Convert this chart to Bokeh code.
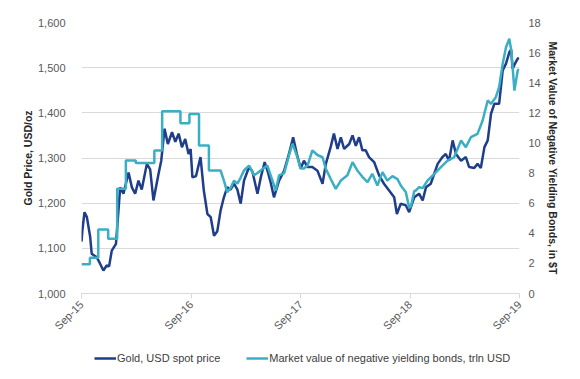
import pandas as pd
from datetime import datetime
from bokeh.plotting import figure
from bokeh.layouts import column
from bokeh.models import (Range1d, LinearAxis, FixedTicker, NumeralTickFormatter,
                          DatetimeTickFormatter, Legend, LegendItem, ColumnDataSource)
from bokeh.embed import file_html
from bokeh.resources import INLINE

# ---------------- data ----------------
gold_dates = [
    "2015-09-01", "2015-09-04", "2015-09-11", "2015-09-19", "2015-09-30", "2015-10-05",
    "2015-10-22", "2015-11-02", "2015-11-13", "2015-11-24", "2015-12-02", "2015-12-11",
    "2015-12-25", "2016-01-08", "2016-01-19", "2016-02-05", "2016-02-16", "2016-02-27",
    "2016-03-09", "2016-03-20", "2016-04-06", "2016-04-17", "2016-04-28", "2016-05-15",
    "2016-05-24", "2016-06-04", "2016-06-15", "2016-06-29", "2016-07-10", "2016-07-21",
    "2016-08-01", "2016-08-12", "2016-08-23", "2016-08-30", "2016-09-05", "2016-09-17",
    "2016-10-02", "2016-10-13", "2016-10-25", "2016-11-05", "2016-11-16", "2016-11-27",
    "2016-12-08", "2016-12-19", "2016-12-30", "2017-01-10", "2017-01-22", "2017-02-02",
    "2017-02-13", "2017-02-24", "2017-03-13", "2017-03-24", "2017-04-10", "2017-04-21",
    "2017-05-04", "2017-05-15", "2017-05-24", "2017-06-04", "2017-06-21", "2017-07-08",
    "2017-07-24", "2017-08-07", "2017-08-19", "2017-09-01", "2017-09-12", "2017-09-24",
    "2017-10-10", "2017-10-27", "2017-11-13", "2017-11-24", "2017-12-10", "2017-12-21",
    "2018-01-02", "2018-01-13", "2018-01-24", "2018-02-10", "2018-02-21", "2018-03-04",
    "2018-03-15", "2018-03-26", "2018-04-06", "2018-04-17", "2018-05-04", "2018-05-21",
    "2018-06-06", "2018-06-23", "2018-07-10", "2018-07-19", "2018-08-01", "2018-08-18",
    "2018-08-29", "2018-09-15", "2018-10-01", "2018-10-13", "2018-10-24", "2018-11-09",
    "2018-12-02", "2018-12-18", "2018-12-29", "2019-01-09", "2019-01-21", "2019-02-01",
    "2019-02-18", "2019-03-06", "2019-03-17", "2019-04-03", "2019-04-14", "2019-04-25",
    "2019-05-07", "2019-05-18", "2019-05-29", "2019-06-09", "2019-06-25", "2019-07-07",
    "2019-07-18", "2019-07-29", "2019-08-04", "2019-08-09", "2019-08-17", "2019-08-26",
    "2019-08-30",
]
gold_price = [
    1115, 1140, 1180, 1169, 1125, 1088,
    1080, 1066, 1051, 1062, 1060, 1095,
    1110, 1235, 1221, 1268, 1235, 1221,
    1250, 1230, 1287, 1275, 1206, 1265,
    1294, 1365, 1331, 1357, 1336, 1354,
    1324, 1342, 1309, 1320, 1257, 1260,
    1302, 1228, 1176, 1169, 1128, 1138,
    1184, 1213, 1235, 1230, 1243, 1230,
    1199, 1250, 1280, 1270, 1221, 1257,
    1291, 1268, 1246, 1213, 1250, 1272,
    1309, 1346, 1310, 1277, 1294, 1280,
    1280, 1272, 1243, 1287, 1324, 1354,
    1320, 1346, 1320, 1331, 1350, 1327,
    1346, 1317, 1317, 1302, 1291, 1261,
    1243, 1228, 1213, 1176, 1199, 1195,
    1180, 1213, 1221, 1206, 1235, 1243,
    1287, 1302, 1309, 1294, 1339, 1309,
    1294, 1302, 1280, 1278, 1287, 1278,
    1324, 1339, 1398, 1420, 1420, 1494,
    1509, 1534, 1540, 1497, 1509, 1520,
    1522,
]

bond_dates = [
    "2015-09-01", "2015-09-29", "2015-09-29", "2015-10-27", "2015-10-27", "2015-11-29",
    "2015-11-29", "2015-12-29", "2015-12-29", "2016-01-27", "2016-01-27", "2016-02-29",
    "2016-02-29", "2016-05-01", "2016-05-01", "2016-05-27", "2016-05-27", "2016-07-27",
    "2016-07-27", "2016-08-26", "2016-08-26", "2016-09-27", "2016-09-27", "2016-10-30",
    "2016-10-30", "2016-12-08", "2016-12-19", "2016-12-30", "2017-01-10", "2017-01-22",
    "2017-02-02", "2017-02-13", "2017-02-24", "2017-03-13", "2017-03-30", "2017-04-10",
    "2017-04-27", "2017-05-13", "2017-05-24", "2017-06-10", "2017-06-21", "2017-07-08",
    "2017-07-24", "2017-08-05", "2017-08-19", "2017-09-01", "2017-09-12", "2017-09-24",
    "2017-10-10", "2017-10-27", "2017-11-13", "2017-11-24", "2017-12-10", "2017-12-27",
    "2018-01-13", "2018-02-04", "2018-02-21", "2018-03-09", "2018-03-26", "2018-04-12",
    "2018-04-28", "2018-05-15", "2018-06-01", "2018-06-17", "2018-07-04", "2018-07-21",
    "2018-08-01", "2018-08-18", "2018-08-29", "2018-09-04", "2018-09-15", "2018-09-20",
    "2018-10-01", "2018-10-13", "2018-10-29", "2018-11-21", "2018-12-13", "2019-01-04",
    "2019-01-26", "2019-02-18", "2019-03-06", "2019-03-23", "2019-04-14", "2019-05-01",
    "2019-05-18", "2019-05-29", "2019-06-14", "2019-06-25", "2019-07-07", "2019-07-18",
    "2019-07-29", "2019-08-05", "2019-08-15", "2019-08-26", "2019-08-30",
]
bond_value = [
    1.95, 1.95, 2.37, 2.37, 4.25, 4.25,
    3.63, 3.63, 6.95, 6.95, 8.83, 8.83,
    8.66, 8.66, 9.50, 9.50, 12.10, 12.10,
    11.30, 11.30, 11.93, 11.93, 9.83, 9.83,
    8.17, 8.17, 7.50, 6.73, 7.00, 7.50,
    7.30, 7.70, 8.17, 8.50, 7.85, 8.00,
    8.28, 8.50, 7.85, 6.84, 7.85, 8.00,
    9.17, 9.94, 9.17, 8.30, 8.30, 8.50,
    9.50, 9.20, 9.05, 8.28, 7.62, 6.95,
    7.50, 7.85, 8.72, 8.17, 7.75, 7.39,
    7.95, 7.17, 8.06, 7.50, 7.80, 7.60,
    7.17, 6.73, 5.70, 5.80, 6.80, 6.84,
    7.06, 7.00, 7.50, 7.95, 8.39, 8.83,
    9.05, 10.16, 9.72, 10.38, 10.60, 11.49,
    12.82, 12.60, 13.04, 13.70, 15.26, 16.36,
    16.92, 16.10, 13.48, 14.81, 14.90,
]

x_tick_dates = ["2015-09-01", "2016-09-01", "2017-09-01", "2018-09-01", "2019-09-01"]
gold_ticks = [1000, 1100, 1200, 1300, 1400, 1500, 1600]
bond_ticks = [0, 2, 4, 6, 8, 10, 12, 14, 16, 18]

gold_label = "Gold, USD spot price"
bond_label = "Market value of negative yielding bonds, trln USD"
left_title = "Gold Price, USD/oz"
right_title = "Market Value of Negative Yielding Bonds, in $T"

# ---------------- styling ----------------
GOLD_COLOR = "#1f3d8a"
BOND_COLOR = "#3aafc4"
TICK_COLOR = "#595959"
GRID_COLOR = "#d9d9d9"
FONT = "Liberation Sans"

gold_src = ColumnDataSource(dict(x=pd.to_datetime(gold_dates), y=gold_price))
bond_src = ColumnDataSource(dict(x=pd.to_datetime(bond_dates), y=bond_value))

p = figure(frame_width=438, frame_height=271, x_axis_type="datetime",
           x_range=Range1d(datetime(2015, 9, 1), datetime(2019, 9, 1)),
           y_range=Range1d(1000, 1600),
           output_backend="svg", toolbar_location=None,
           min_border_left=81, min_border_right=61, min_border_top=22, min_border_bottom=42)
p.outline_line_color = None
p.background_fill_color = "white"
p.border_fill_color = "white"
p.extra_y_ranges = {"bonds": Range1d(0, 18)}

# grid
p.xgrid.grid_line_color = None
p.ygrid.grid_line_color = GRID_COLOR
p.ygrid.grid_line_width = 1

# x axis
xa = p.xaxis[0]
xa.ticker = FixedTicker(ticks=[pd.Timestamp(d).value // 10**6 for d in x_tick_dates])
fmt = "%b-%y"
xa.formatter = DatetimeTickFormatter(years=fmt, months=fmt, days=fmt, hours=fmt,
                                     minutes=fmt, seconds=fmt, milliseconds=fmt,
                                     microseconds=fmt, hourmin=fmt, minsec=fmt)
xa.major_label_orientation = 0.785398
xa.axis_line_color = GRID_COLOR
xa.major_tick_line_color = GRID_COLOR
xa.major_tick_out = 5
xa.major_tick_in = 0
xa.minor_tick_line_color = None
xa.major_label_text_font = FONT
xa.major_label_text_font_size = "11px"
xa.major_label_text_color = TICK_COLOR
xa.major_label_standoff = 4

# left axis
ya = p.yaxis[0]
ya.ticker = FixedTicker(ticks=gold_ticks)
ya.formatter = NumeralTickFormatter(format="0,0")
ya.axis_line_color = None
ya.major_tick_line_color = None
ya.minor_tick_line_color = None
ya.major_label_text_font = FONT
ya.major_label_text_font_size = "11px"
ya.major_label_text_color = TICK_COLOR
ya.major_label_standoff = 10
ya.axis_label = left_title
ya.axis_label_text_font = FONT
ya.axis_label_text_font_size = "10.5px"
ya.axis_label_text_font_style = "bold"
ya.axis_label_text_color = "#262626"
ya.axis_label_standoff = 1

# right axis
ra = LinearAxis(y_range_name="bonds", ticker=FixedTicker(ticks=bond_ticks))
ra.axis_line_color = None
ra.major_tick_line_color = None
ra.minor_tick_line_color = None
ra.major_label_text_font = FONT
ra.major_label_text_font_size = "11px"
ra.major_label_text_color = TICK_COLOR
ra.major_label_standoff = 3
ra.axis_label = right_title
ra.axis_label_text_font = FONT
ra.axis_label_text_font_size = "10.5px"
ra.axis_label_text_font_style = "bold"
ra.axis_label_text_color = "#262626"
ra.axis_label_standoff = 3
p.add_layout(ra, "right")

# lines
g = p.line("x", "y", source=gold_src, line_color=GOLD_COLOR, line_width=2.5)
b = p.line("x", "y", source=bond_src, line_color=BOND_COLOR, line_width=2.5,
           y_range_name="bonds")

# ---------------- legend strip ----------------
lf = figure(frame_width=438, frame_height=44, x_range=Range1d(0, 1), y_range=Range1d(0, 1),
            output_backend="svg", toolbar_location=None,
            x_axis_location=None, y_axis_location=None,
            min_border_left=81, min_border_right=61, min_border_top=0, min_border_bottom=0)
lf.outline_line_color = None
lf.xgrid.visible = False
lf.ygrid.visible = False
proxy = ColumnDataSource(dict(x=[float("nan")], y=[float("nan")]))
lg = lf.line("x", "y", source=proxy, line_color=GOLD_COLOR, line_width=2.5)
lb = lf.line("x", "y", source=proxy, line_color=BOND_COLOR, line_width=2.5)

legend = Legend(items=[LegendItem(label=gold_label, renderers=[lg]),
                       LegendItem(label=bond_label, renderers=[lb])],
                orientation="horizontal", location=(13, 18))
legend.label_text_font = FONT
legend.label_text_font_size = "11px"
legend.label_text_color = "#404040"
legend.glyph_width = 22
legend.glyph_height = 14
legend.label_height = 14
legend.label_standoff = 1
legend.spacing = 26
legend.border_line_color = None
legend.background_fill_alpha = 0
legend.margin = 0
legend.padding = 2
lf.add_layout(legend)

open("out.html", "w").write(file_html(column(p, lf, spacing=0), INLINE))
